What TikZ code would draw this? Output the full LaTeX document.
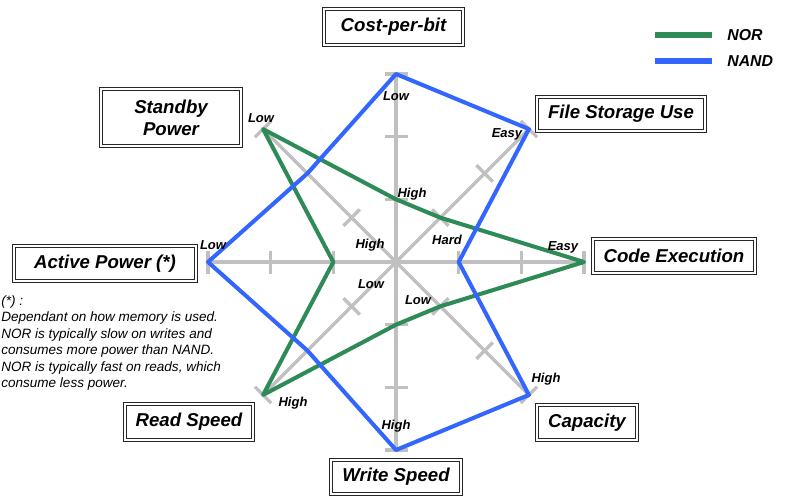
\documentclass[tikz,border=0pt]{standalone}
\usepackage{fontspec}
\setmainfont{Liberation Sans}
\usetikzlibrary{scopes}

\definecolor{norgreen}{RGB}{46,139,87}
\definecolor{nandblue}{RGB}{51,102,255}
\definecolor{axisgray}{RGB}{192,192,192}

\begin{document}
\begin{tikzpicture}[
  x=0.02cm, y=0.02cm,
  axis/.style={draw=axisgray, line width=1.9pt},
  nor/.style={draw=norgreen, line width=2.3pt, line join=round},
  nand/.style={draw=nandblue, line width=2.3pt, line join=round},
  keyline/.style={line width=3.1pt},
  keytext/.style={font=\fontsize{9}{10}\selectfont\bfseries\itshape, anchor=west, inner sep=0pt},
  category/.style={draw=black!85, double=white, double distance=1.1pt, line width=0.65pt,
    fill=white, align=center, inner sep=1pt,
    font=\fontsize{10.6}{12.5}\selectfont\bfseries\itshape},
  level/.style={font=\fontsize{7.4}{8}\selectfont\bfseries\itshape, inner sep=0pt},
  note/.style={font=\fontsize{7.7}{9.4}\selectfont\itshape, align=left, inner sep=0pt},
  ]
  \useasboundingbox (0,0) rectangle (789,495);

  % Centre of the chart
  \coordinate (O) at (396,233);

  % Axes, ticks at every third of the radius
  \begin{scope}[shift={(O)}]
    \foreach \a in {0,45,...,315}{
      \begin{scope}[rotate=\a]
        \draw[axis] (0,0) -- (188,0);
        \draw[axis] (62.7,-11.5) -- (62.7,11.5);
        \draw[axis] (125.3,-11.5) -- (125.3,11.5);
        \draw[axis] (188,-11.5) -- (188,11.5);
      \end{scope}
    }

    % NOR
    \draw[nor] (90:62.7) -- (45:62.7) -- (0:188) -- (-45:62.7) -- (-90:62.7)
      -- (-135:188) -- (180:62.7) -- (135:188) -- cycle;

    % NAND
    \draw[nand] (90:188) -- (45:188) -- (0:62.7) -- (-45:188) -- (-90:188)
      -- (-135:125.3) -- (180:188) -- (135:125.3) -- cycle;
  \end{scope}

  % Category boxes
  \node[category, minimum width=2.78cm, minimum height=0.72cm] (cost) at (393.5,468) {Cost-per-bit};
  \node[category, minimum width=3.36cm, minimum height=0.68cm] (file) at (621,381) {File Storage Use};
  \node[category, minimum width=3.24cm, minimum height=0.68cm] (code) at (674,239) {Code Execution};
  \node[category, minimum width=2.00cm, minimum height=0.70cm] (capacity) at (587,72.5) {Capacity};
  \node[category, minimum width=2.60cm, minimum height=0.68cm] (write) at (396,18) {Write Speed};
  \node[category, minimum width=2.56cm, minimum height=0.72cm] (read) at (189,73) {Read Speed};
  \node[category, minimum width=3.64cm, minimum height=0.70cm] (active) at (105,231.5) {Active Power (*)};
  \node[category, minimum width=2.80cm, minimum height=1.14cm] (standby) at (171,377.5) {Standby\\Power};

  % Levels
  \node[level] (costlow) at (396,399) {Low};
  \node[level] (costhigh) at (412,301) {High};
  \node[level] (fileeasy) at (507,361) {Easy};
  \node[level] (filehard) at (447,255) {Hard};
  \node[level] (codeeasy) at (563,248) {Easy};
  \node[level] (activelow) at (213,250) {Low};
  \node[level] (activehigh) at (370,250) {High};
  \node[level] (standbylow) at (261,377) {Low};
  \node[level] (readlow) at (371,211) {Low};
  \node[level] (capacitylow) at (418,195) {Low};
  \node[level] (capacityhigh) at (546,116) {High};
  \node[level] (writehigh) at (396,69) {High};
  \node[level] (readhigh) at (293,92) {High};

  % Footnote
  \node[note, anchor=north west] (footnote) at (1,200)
    {(*) :\\Dependant on how memory is used.\\NOR is typically slow on writes and\\consumes more power than NAND.\\NOR is typically fast on reads, which\\consume less power.};

  % Legend
  \coordinate (norA) at (655,460);
  \coordinate (norB) at (712,460);
  \coordinate (nandA) at (655,434);
  \coordinate (nandB) at (712,434);
  \draw[keyline, norgreen] (norA) -- (norB);
  \draw[keyline, nandblue] (nandA) -- (nandB);
  \node[keytext] (norkey) at (727,460) {NOR};
  \node[keytext] (nandkey) at (727,434) {NAND};

\end{tikzpicture}
\end{document}
